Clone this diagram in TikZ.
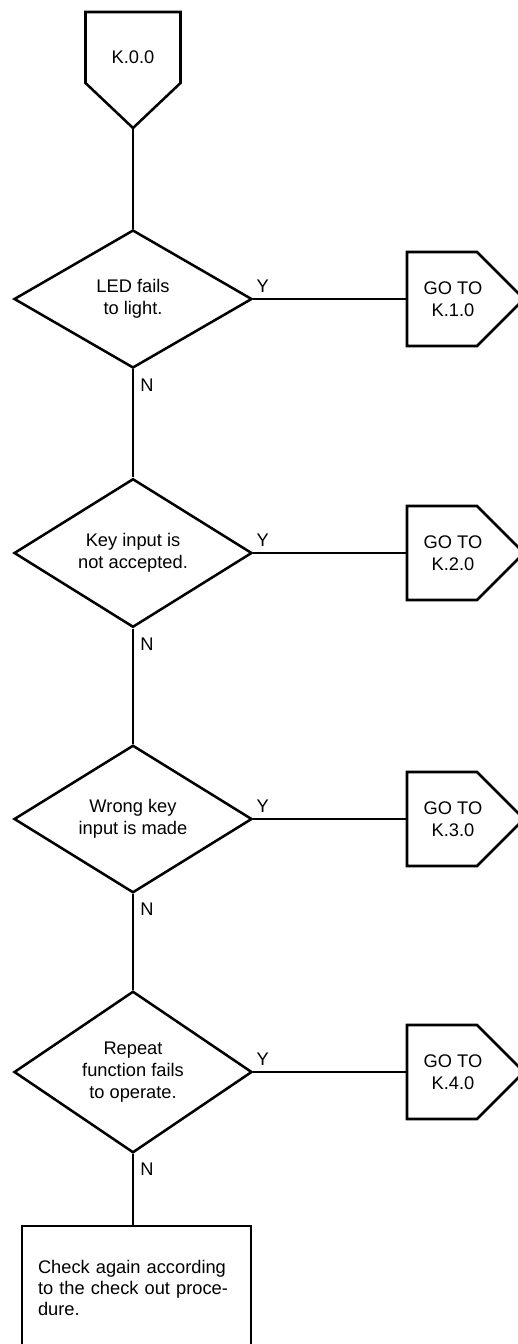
\documentclass[tikz,border=0pt]{standalone}
\usepackage{fontspec}
\setmainfont{Liberation Sans}
\usepackage{tikz}
\usetikzlibrary{shapes.geometric, positioning, calc}

\begin{document}
\begin{tikzpicture}[
  flow/.style={line width=1.8pt},
  decision/.style={draw, diamond, line width=1.8pt, minimum width=5.95cm, minimum height=3.45cm, inner sep=0pt, align=center, font=\fontsize{13}{15.5}\selectfont},
  gotext/.style={align=center, inner sep=0pt, font=\fontsize{13}{15.5}\selectfont},
  yn/.style={inner sep=0pt, font=\fontsize{13}{15.5}\selectfont}]
\useasboundingbox (0,0) rectangle (12.925,-33.6);
\draw[flow] (2.1375,-0.3) -- (4.5125,-0.3) -- (4.5125,-2.075) -- (3.325,-3.2) -- (2.1375,-2.075) -- cycle;
\node[gotext] (k00) at (3.325,-1.425) {K.0.0};
\coordinate (k00tip) at (3.325,-3.2);
\foreach \i/\y/\txt in {1/-7.475/{LED fails\\to light.}, 2/-13.825/{Key input is\\not accepted.}, 3/-20.475/{Wrong key\\input is made}, 4/-26.8/{Repeat\\function fails\\to operate.}} {
  \node[decision] (d\i) at (3.325,\y) {\txt};
  \node[yn, above right=0.16cm and 0.075cm of d\i.east] (y\i) {Y};
  \node[yn, below right=0.225cm and 0.175cm of d\i.south] (n\i) {N};
  \draw[flow] (10.175,\y+1.175) -- (11.925,\y+1.175) -- (13.1,\y) -- (11.925,\y-1.175) -- (10.175,\y-1.175) -- cycle;
  \node[gotext] (g\i) at (11.325,\y) {GO TO\\K.\i.0};
  \coordinate (gin\i) at (10.175,\y);
  \draw[flow] (d\i.east) -- (gin\i);
}
\node[draw, line width=1.8pt, minimum width=5.725cm, minimum height=3.1cm, text width=4.925cm, inner sep=0pt, align=left, font=\fontsize{13}{15}\selectfont] (chk) at (3.4125,-32.2) {Check again according\\to the check out proce-\\dure.};
\draw[flow] (k00tip) -- (d1.north);
\draw[flow] (d1.south) -- (d2.north);
\draw[flow] (d2.south) -- (d3.north);
\draw[flow] (d3.south) -- (d4.north);
\draw[flow] (d4.south) -- (d4.south |- chk.north);
\end{tikzpicture}
\end{document}
